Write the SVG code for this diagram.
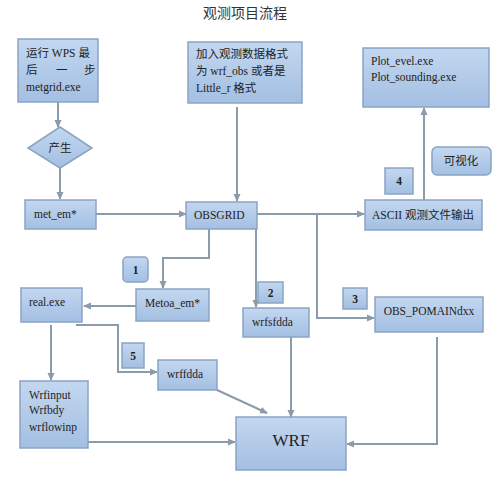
<svg xmlns="http://www.w3.org/2000/svg" width="500" height="483" viewBox="0 0 500 483">
<defs>
<linearGradient id="g" x1="0" y1="0" x2="0" y2="1">
<stop offset="0" stop-color="#c3d7f0"/>
<stop offset="1" stop-color="#a3bfe2"/>
</linearGradient>
<marker id="ar" markerWidth="8" markerHeight="8" refX="7" refY="4" orient="auto" markerUnits="userSpaceOnUse">
<path d="M0,0.5 L8,4 L0,7.5 Z" fill="#8a9bab"/>
</marker>
<style>
.b{fill:url(#g);stroke:#8ba4c3;stroke-width:1.5}
.t{font-family:"Liberation Serif","Noto Sans CJK SC",serif;font-size:11.5px;fill:#222}
.c{stroke:#8a9bab;stroke-width:2;fill:none}
.a{marker-end:url(#ar)}
</style>
</defs>
<rect width="500" height="483" fill="#fff"/>
<text x="245" y="18" text-anchor="middle" font-family="Noto Sans CJK SC, sans-serif" font-size="14" fill="#333">观测项目流程</text>

<g id="connectors">
<path class="c a" d="M58,102 V127"/>
<path class="c a" d="M60,168 V199"/>
<path class="c a" d="M96,214 H186"/>
<path class="c a" d="M237,107 V201"/>
<path class="c a" d="M257,214 H364"/>
<path class="c a" d="M317,214 V318 H374"/>
<path class="c a" d="M424,200 V108"/>
<path class="c a" d="M209,229 V258 H163 V288"/>
<path class="c a" d="M256,229 V307"/>
<path class="c a" d="M136,306 H84"/>
<path class="c a" d="M51,325 V380"/>
<path class="c a" d="M76,325 H118 V372 H157"/>
<path class="c a" d="M88,442 H235"/>
<path class="c a" d="M217,390 L267,413"/>
<path class="c a" d="M291,337 V417"/>
<path class="c a" d="M437,337 V444 H347"/>
</g>

<g id="n-wps"><rect class="b" x="18" y="39" width="80" height="63"/>
<text class="t" x="26" y="57">运行 WPS 最</text>
<text class="t" x="26" y="74">后</text><text class="t" x="56" y="74">一</text><text class="t" x="84" y="74">步</text>
<text class="t" x="26" y="91">metgrid.exe</text></g>

<g id="n-produce"><path class="b" d="M60,127 L92,148 L60,168 L28,148 Z"/>
<text class="t" x="60" y="152" text-anchor="middle">产生</text></g>

<g id="n-metem"><rect class="b" x="25" y="200" width="71" height="29"/>
<text class="t" x="34" y="218">met_em*</text></g>

<g id="n-addobs"><rect class="b" x="188" y="42" width="114" height="61"/>
<text class="t" x="196" y="58">加入观测数据格式</text>
<text class="t" x="196" y="75">为 wrf_obs 或者是</text>
<text class="t" x="196" y="92">Little_r 格式</text></g>

<g id="n-obsgrid"><rect class="b" x="186" y="202" width="71" height="27"/>
<text class="t" x="194" y="219">OBSGRID</text></g>

<g id="n-plot"><rect class="b" x="363" y="48" width="126" height="59"/>
<text class="t" x="371" y="65">Plot_evel.exe</text>
<text class="t" x="371" y="81">Plot_sounding.exe</text></g>

<g id="n-vis"><rect class="b" x="432" y="147" width="59" height="28" rx="5"/>
<text class="t" x="461" y="165" text-anchor="middle">可视化</text></g>

<g id="n-4"><rect class="b" x="385" y="168" width="28" height="26"/>
<text class="t" x="399" y="185" text-anchor="middle" font-weight="bold" font-size="10">4</text></g>

<g id="n-ascii"><rect class="b" x="365" y="200" width="117" height="30"/>
<text class="t" x="423" y="219" text-anchor="middle">ASCII 观测文件输出</text></g>

<g id="n-1"><rect class="b" x="123" y="257" width="25" height="25" rx="4"/>
<text class="t" x="135.5" y="274" text-anchor="middle" font-weight="bold" font-size="10">1</text></g>

<g id="n-metoa"><rect class="b" x="136" y="289" width="73" height="32"/>
<text class="t" x="145" y="307">Metoa_em*</text></g>

<g id="n-real"><rect class="b" x="21" y="288" width="61" height="34"/>
<text class="t" x="29" y="306">real.exe</text></g>

<g id="n-2"><rect class="b" x="258" y="282" width="25" height="21"/>
<text class="t" x="270.5" y="297" text-anchor="middle" font-weight="bold" font-size="10">2</text></g>

<g id="n-wrfsfdda"><rect class="b" x="243" y="308" width="66" height="29"/>
<text class="t" x="252" y="326">wrfsfdda</text></g>

<g id="n-3"><rect class="b" x="343" y="288" width="24" height="21"/>
<text class="t" x="355" y="303" text-anchor="middle" font-weight="bold" font-size="10">3</text></g>

<g id="n-obsdomain"><rect class="b" x="375" y="297" width="108" height="35"/>
<text class="t" x="429" y="315" text-anchor="middle">OBS_POMAINdxx</text></g>

<g id="n-5"><rect class="b" x="122" y="343" width="22" height="25"/>
<text class="t" x="133" y="360" text-anchor="middle" font-weight="bold" font-size="10">5</text></g>

<g id="n-wrffdda"><rect class="b" x="158" y="360" width="59" height="30"/>
<text class="t" x="167" y="378">wrffdda</text></g>

<g id="n-wrfinput"><rect class="b" x="20" y="381" width="68" height="67"/>
<text class="t" x="29" y="399">Wrfinput</text>
<text class="t" x="29" y="414">Wrfbdy</text>
<text class="t" x="29" y="431">wrflowinp</text></g>

<g id="n-wrf"><rect class="b" x="236" y="417" width="110" height="53"/>
<text x="291" y="446" text-anchor="middle" font-family="Liberation Serif, serif" font-size="17" fill="#222">WRF</text></g>
</svg>
